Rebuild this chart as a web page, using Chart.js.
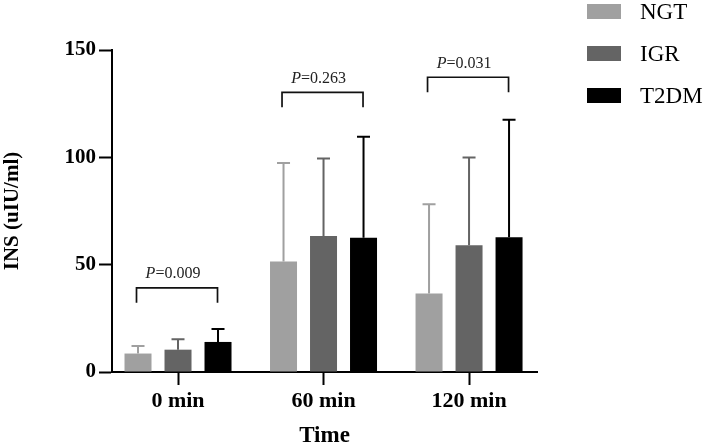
<!DOCTYPE html>
<html><head><meta charset="utf-8">
<script src="https://cdn.jsdelivr.net/npm/chart.js@4/dist/chart.umd.min.js"></script>
<style>html,body{margin:0;padding:0;background:#fff;} #wrap{width:709px;height:448px;position:relative;}</style>
</head><body><div id="wrap"><canvas id="c" width="709" height="448"></canvas></div>
<script>
// ---- data ----
const categories = ['0 min', '60 min', '120 min'];
const seriesNames = ['NGT', 'IGR', 'T2DM'];
const ngtMean = [8.6, 51.5, 36.6];
const ngtSD = [3.5, 45.9, 41.6];
const igrMean = [10.4, 63.3, 59.1];
const igrSD = [4.8, 36.2, 40.8];
const t2dmMean = [14.0, 62.5, 62.8];
const t2dmSD = [6.0, 47.1, 54.7];
const bracketLevels = [39.2, 130.3, 137.3];
const pValues = ['0.009', '0.263', '0.031'];
const yTicks = [0, 50, 100, 150];

const FONT = '"Liberation Serif", "Times New Roman", "DejaVu Serif", serif';
const colors = ['#a0a0a0', '#646464', '#000000'];
const means = [ngtMean, igrMean, t2dmMean];
const sds = [ngtSD, igrSD, t2dmSD];

Chart.defaults.font.family = FONT;
Chart.defaults.color = '#000';

const datasets = seriesNames.map((name, k) => ({
  label: name,
  data: means[k].map((v, i) => ({ x: i, y: v })),
  errors: sds[k],
  backgroundColor: colors[k],
  borderWidth: 0,
  categoryPercentage: 0.8247,
  barPercentage: 0.675
}));

const errorBars = {
  id: 'errorBars',
  afterDatasetsDraw(chart) {
    const { ctx } = chart; const y = chart.scales.y;
    chart.data.datasets.forEach((ds, di) => {
      const meta = chart.getDatasetMeta(di);
      meta.data.forEach((bar, i) => {
        const top = y.getPixelForValue(ds.data[i].y + ds.errors[i]);
        ctx.save();
        ctx.strokeStyle = ds.backgroundColor; ctx.lineWidth = 2;
        ctx.beginPath();
        ctx.moveTo(bar.x, bar.y); ctx.lineTo(bar.x, top);
        ctx.moveTo(bar.x - 6.5, top); ctx.lineTo(bar.x + 6.5, top);
        ctx.stroke(); ctx.restore();
      });
    });
  }
};

const brackets = {
  id: 'brackets',
  afterDatasetsDraw(chart) {
    const { ctx } = chart; const y = chart.scales.y;
    const m0 = chart.getDatasetMeta(0), m2 = chart.getDatasetMeta(2);
    categories.forEach((c, i) => {
      const x1 = m0.data[i].x - 1.5, x2 = m2.data[i].x - 0.5;
      const yb = y.getPixelForValue(bracketLevels[i]);
      ctx.save();
      ctx.strokeStyle = '#111'; ctx.lineWidth = 1.7;
      ctx.beginPath();
      ctx.moveTo(x1, yb + 15); ctx.lineTo(x1, yb); ctx.lineTo(x2, yb); ctx.lineTo(x2, yb + 15);
      ctx.stroke();
      const fi = 'italic 16px ' + FONT, fn = '16px ' + FONT;
      ctx.font = fi; const wP = ctx.measureText('P').width;
      ctx.font = fn; const rest = '=' + pValues[i]; const wR = ctx.measureText(rest).width;
      const sx = (x1 + x2) / 2 - 4 - (wP + wR) / 2;
      ctx.fillStyle = '#222'; ctx.textBaseline = 'alphabetic'; ctx.textAlign = 'left';
      ctx.font = fi; ctx.fillText('P', sx, yb - 9.5);
      ctx.font = fn; ctx.fillText(rest, sx + wP, yb - 9.5);
      ctx.restore();
    });
  }
};

const customLegend = {
  id: 'customLegend',
  afterDraw(chart) {
    const { ctx } = chart;
    chart.data.datasets.forEach((ds, k) => {
      const bx = chart.width - 122, by = 4 + k * 42;
      ctx.save();
      ctx.fillStyle = ds.backgroundColor; ctx.fillRect(bx, by, 34, 15);
      ctx.fillStyle = '#000'; ctx.font = '23px ' + FONT;
      ctx.textBaseline = 'middle'; ctx.textAlign = 'left';
      ctx.fillText(ds.label, chart.width - 69, by + 8.5);
      ctx.restore();
    });
  }
};

new Chart(document.getElementById('c'), {
  type: 'bar',
  data: { datasets },
  plugins: [errorBars, brackets, customLegend],
  options: {
    responsive: false, animation: false,
    layout: { padding: { top: 50, right: 172, left: 0, bottom: 0 } },
    plugins: { legend: { display: false }, tooltip: { enabled: false } },
    scales: {
      x: {
        type: 'linear', min: -0.4536, max: 2.467, offset: false, z: 1,
        afterBuildTicks: s => { s.ticks = categories.map((c, i) => ({ value: i })); },
        afterFit: s => { s.height = 76; },
        ticks: { callback: v => categories[v], font: { size: 22, weight: 'bold' }, color: '#000', padding: 3, maxRotation: 0, autoSkip: false },
        grid: { display: true, offset: false, drawOnChartArea: false, drawTicks: true, tickLength: 13, tickColor: '#000', tickWidth: 2 },
        border: { display: true, color: '#000', width: 2 },
        title: { display: true, text: 'Time', color: '#000', font: { size: 23, weight: 'bold', lineHeight: 1 }, padding: 0 }
      },
      y: {
        min: 0, max: 150, z: 1,
        afterBuildTicks: s => { s.ticks = yTicks.map(v => ({ value: v })); },
        afterFit: s => { s.width = 112; },
        ticks: { font: { size: 21, weight: 'bold' }, color: '#000', padding: 3 },
        grid: { display: true, offset: false, drawOnChartArea: false, drawTicks: true, tickLength: 13, tickColor: '#000', tickWidth: 2 },
        border: { display: true, color: '#000', width: 2 },
        title: { display: true, text: 'INS (uIU/ml)', color: '#000', font: { size: 21, weight: 'bold', lineHeight: 1 }, padding: { top: 2.5, bottom: 0 } }
      }
    }
  }
});
</script></body></html>
